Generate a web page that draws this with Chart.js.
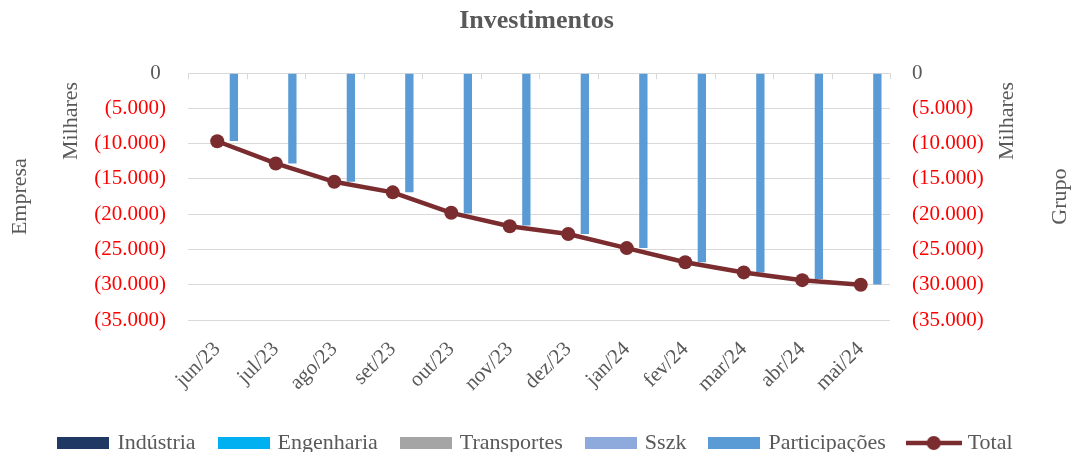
<!DOCTYPE html>
<html>
<head>
<meta charset="utf-8">
<title>Investimentos</title>
<script src="https://cdn.jsdelivr.net/npm/chart.js@4.4.1/dist/chart.umd.min.js"></script>
<style>
  body { margin: 0; background: #fff; }
  #wrap { width: 1073px; height: 452px; position: relative; }
</style>
</head>
<body>
<div id="wrap"><canvas id="grafico"></canvas></div>
<script>
// dados (milhares)
const meses = ['jun/23', 'jul/23', 'ago/23', 'set/23', 'out/23', 'nov/23', 'dez/23', 'jan/24', 'fev/24', 'mar/24', 'abr/24', 'mai/24']
const industria = [0, 0, 0, 0, 0, 0, 0, 0, 0, 0, 0, 0]
const engenharia = [0, 0, 0, 0, 0, 0, 0, 0, 0, 0, 0, 0]
const transportes = [0, 0, 0, 0, 0, 0, 0, 0, 0, 0, 0, 0]
const sszk = [0, 0, 0, 0, 0, 0, 0, 0, 0, 0, 0, 0]
const participacoes = [-9600, -12800, -15400, -16900, -19900, -21600, -22800, -24800, -26800, -28250, -29200, -29950]
const total = [-9650, -12800, -15400, -16900, -19800, -21700, -22800, -24800, -26800, -28250, -29350, -30000]
const ticksY = [0, -5000, -10000, -15000, -20000, -25000, -30000, -35000]

const CINZA = '#595959'
const VERMELHO = '#FF0000'
const VINHO = '#7B2C2E'

Chart.defaults.font.family = "'Liberation Serif', 'Times New Roman', serif"
Chart.defaults.color = CINZA

// formato contábil: (5.000)
function formata(v, lado) {
  if (v === 0) return lado === 'esq' ? '0 ' : '0'
  const s = String(Math.abs(v)).replace(/\B(?=(\d{3})+(?!\d))/g, '.')
  return v < 0 ? '(' + s + ')' : s
}

// amostras da legenda
function caixa(cor) {
  const c = document.createElement('canvas')
  c.width = 52; c.height = 12
  const g = c.getContext('2d')
  g.fillStyle = cor
  g.fillRect(0, 0, 52, 12)
  return c
}
function linhaMarcador(cor) {
  const c = document.createElement('canvas')
  c.width = 56; c.height = 16
  const g = c.getContext('2d')
  g.strokeStyle = cor
  g.lineWidth = 4.5
  g.beginPath(); g.moveTo(0, 8); g.lineTo(56, 8); g.stroke()
  g.fillStyle = cor
  g.beginPath(); g.arc(28, 8, 7, 0, Math.PI * 2); g.fill()
  return c
}

const coresBarra = ['#1F3864', '#00B0F0', '#A5A5A5', '#8EA9DB', '#5B9BD5']

function barra(label, data, cor) {
  return {
    type: 'bar', label, data,
    backgroundColor: cor,
    borderWidth: 0,
    yAxisID: 'y',
    order: 1,
    barPercentage: 1,
    categoryPercentage: 0.71,
  }
}

// títulos dos eixos e marcas do eixo de categorias na linha do zero
const extras = {
  id: 'extras',
  afterDraw(chart) {
    const { ctx } = chart
    const x = chart.scales.x
    const y = chart.scales.y
    const y0 = y.getPixelForValue(0)
    ctx.save()
    ctx.strokeStyle = '#D9D9D9'
    ctx.lineWidth = 1
    for (let k = 0; k <= meses.length; k++) {
      const px = Math.round(x.getPixelForValue(k - 0.5)) + 0.5
      ctx.beginPath(); ctx.moveTo(px, y0); ctx.lineTo(px, y0 + 6); ctx.stroke()
    }
    ctx.fillStyle = CINZA
    ctx.font = "22px 'Liberation Serif', serif"
    ctx.textAlign = 'center'
    ctx.textBaseline = 'middle'
    const rot = (txt, cx, cy) => {
      ctx.save(); ctx.translate(cx, cy); ctx.rotate(-Math.PI / 2); ctx.fillText(txt, 0, 0); ctx.restore()
    }
    const meio = (chart.chartArea.top + chart.chartArea.bottom) / 2
    rot('Empresa', 20, meio)
    rot('Milhares', 71, 121)
    rot('Milhares', 1007, 121)
    rot('Grupo', 1060, meio)
    ctx.restore()
  }
}

const eixoY = (lado) => ({
  type: 'linear',
  position: lado === 'esq' ? 'left' : 'right',
  min: -35000, max: 0,
  afterBuildTicks: (s) => { s.ticks = ticksY.map(v => ({ value: v })) },
  afterFit: (s) => { s.width = lado === 'esq' ? 188 : 183 },
  border: { display: false },
  grid: { display: lado === 'esq', color: '#D9D9D9', lineWidth: 1, drawTicks: false },
  ticks: {
    padding: 22,
    font: { size: 21 },
    color: (c) => (c.tick && c.tick.value < 0 ? VERMELHO : CINZA),
    callback: (v) => formata(v, lado),
  },
})

const config = {
  data: {
    labels: meses,
    datasets: [
      barra('Indústria', industria, coresBarra[0]),
      barra('Engenharia', engenharia, coresBarra[1]),
      barra('Transportes', transportes, coresBarra[2]),
      barra('Sszk', sszk, coresBarra[3]),
      barra('Participações', participacoes, coresBarra[4]),
      {
        type: 'line', label: 'Total', data: total,
        borderColor: VINHO, backgroundColor: VINHO,
        borderWidth: 4.5, tension: 0,
        pointRadius: 7, pointHoverRadius: 7, pointBorderWidth: 0,
        pointBackgroundColor: VINHO,
        yAxisID: 'y2', order: 0,
      },
    ],
  },
  options: {
    responsive: true,
    maintainAspectRatio: false,
    animation: false,
    layout: { padding: { left: 0, right: 0, top: 0, bottom: -12 } },
    scales: {
      x: {
        offset: true,
        border: { display: false },
        grid: { display: false, drawTicks: false },
        afterFit: (s) => { s.height = 87 },
        ticks: { minRotation: 45, maxRotation: 45, padding: 17, font: { size: 21 }, color: CINZA, autoSkip: false },
      },
      y: eixoY('esq'),
      y2: eixoY('dir'),
    },
    plugins: {
      title: {
        display: true,
        text: 'Investimentos',
        color: CINZA,
        font: { size: 26, weight: 'bold' },
        padding: { top: 6, bottom: 36 },
      },
      tooltip: { enabled: false },
      legend: {
        position: 'bottom',
        labels: {
          usePointStyle: true,
          pointStyleWidth: 46,
          padding: 25,
          font: { size: 22 },
          color: CINZA,
          generateLabels: (chart) => {
            const itens = Chart.defaults.plugins.legend.labels.generateLabels(chart)
            itens.sort((a, b) => a.datasetIndex - b.datasetIndex)
            return itens.map((it) => {
              const i = it.datasetIndex
              it.pointStyle = i < 5 ? caixa(coresBarra[i]) : linhaMarcador(VINHO)
              it.hidden = false
              return it
            })
          },
        },
      },
    },
  },
  plugins: [extras],
}

const grafico = new Chart(document.getElementById('grafico'), config)
</script>
</body>
</html>
